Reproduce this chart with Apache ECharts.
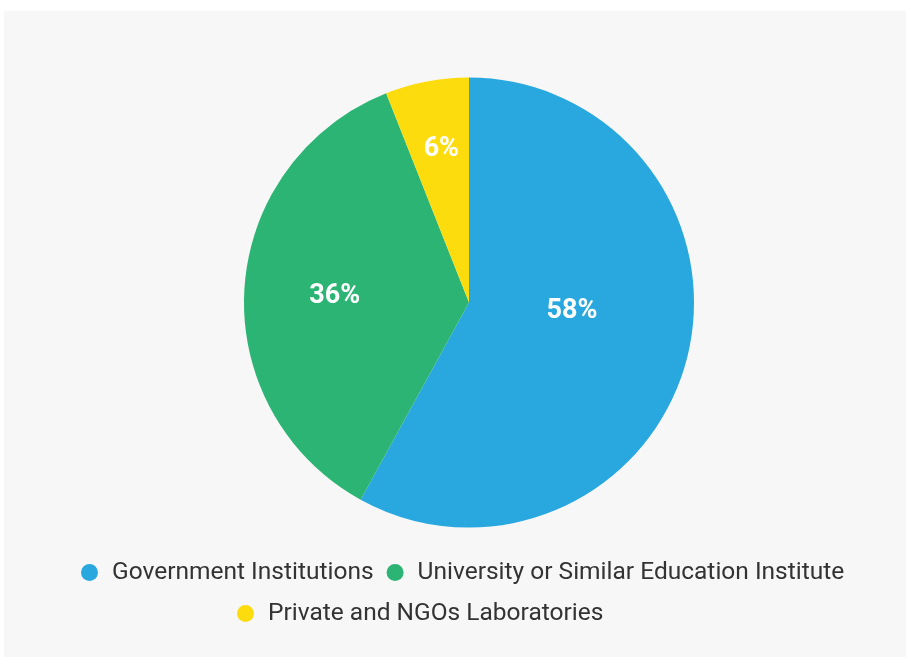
<!DOCTYPE html>
<html>
<head>
<meta charset="utf-8">
<script src="https://cdn.jsdelivr.net/npm/echarts@6/dist/echarts.min.js"></script>
<style>
  html, body { margin: 0; padding: 0; background: #ffffff; width: 906px; height: 657px; overflow: hidden; }
  #chart { position: absolute; left: 4px; top: 11px; width: 902px; height: 646px; background: #f7f7f7; }
</style>
</head>
<body>
<div id="chart"></div>
<script>
// Share of laboratories by type of institution (percent)
const categories = ['Government Institutions', 'University or Similar Education Institute', 'Private and NGOs Laboratories'];
const shares = [58, 36, 6];
const colors = ['#29a8df', '#2bb473', '#fcdc0c'];

// Nudges for the percentage labels inside each slice
const labelOffsets = [[-9, -20], [-19, 1], [-6, -40]];

const chart = echarts.init(document.getElementById('chart'), null, { renderer: 'canvas' });

const pieData = categories.map((name, i) => ({
  name: name,
  value: shares[i],
  itemStyle: { color: colors[i] },
  label: { offset: labelOffsets[i] }
}));

const legendText = { fontFamily: 'Roboto', fontSize: 24.5, color: '#333333', padding: [0, 0, 0, 9] };

chart.setOption({
  animation: false,
  backgroundColor: 'transparent',
  legend: [
    {
      data: categories.slice(0, 2),
      orient: 'horizontal',
      left: 77,
      top: 549,
      padding: 0,
      itemGap: 13,
      itemWidth: 17,
      itemHeight: 17,
      icon: 'circle',
      textStyle: legendText
    },
    {
      data: categories.slice(2),
      orient: 'horizontal',
      left: 233,
      top: 590,
      padding: 0,
      itemGap: 13,
      itemWidth: 17,
      itemHeight: 17,
      icon: 'circle',
      textStyle: legendText
    }
  ],
  series: [{
    type: 'pie',
    center: [465, 291.5],
    radius: [0, 225],
    startAngle: 90,
    clockwise: true,
    silent: true,
    itemStyle: { borderWidth: 0 },
    label: {
      show: true,
      position: 'inside',
      formatter: '{c}%',
      color: '#ffffff',
      fontFamily: 'Roboto',
      fontWeight: 'bold',
      fontSize: 27
    },
    labelLine: { show: false },
    data: pieData
  }]
});
</script>
</body>
</html>
